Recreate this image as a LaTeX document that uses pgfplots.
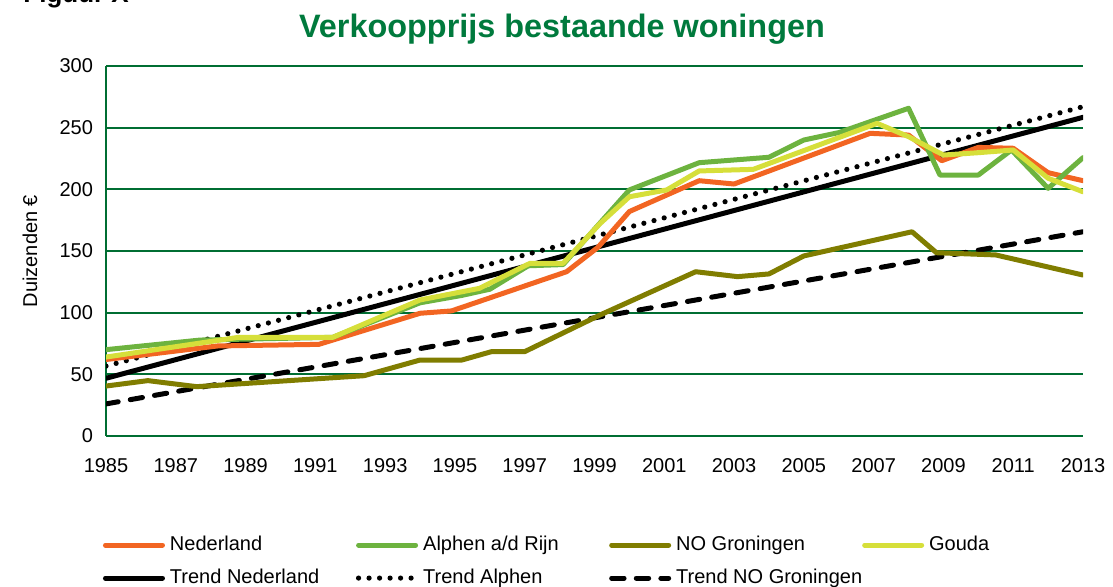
\documentclass[border=0pt]{standalone}
\usepackage{fontspec}
\setmainfont{Liberation Sans}
\usepackage{pgfplots}
\pgfplotsset{compat=1.18}
\definecolor{nlorange}{RGB}{242,101,34}
\definecolor{alphengreen}{RGB}{109,179,63}
\definecolor{groolive}{RGB}{128,125,0}
\definecolor{goudayellow}{RGB}{214,223,58}
\definecolor{gridgreen}{RGB}{0,110,50}
\definecolor{titlegreen}{RGB}{0,122,61}

\begin{document}
\begin{tikzpicture}
\useasboundingbox (-53pt,-75.5pt) rectangle (503.5pt,218pt);
\begin{axis}[
  scale only axis,
  width=488.5pt, height=185pt,
  xmin=1985, xmax=2013,
  ymin=0, ymax=300,
  xtick={1985,1987,...,2013},
  ytick={0,50,...,300},
  major tick length=0pt,
  axis x line*=bottom,
  axis y line*=left,
  axis line style={draw=gridgreen, line width=1.15pt},
  ymajorgrids,
  major grid style={draw=gridgreen, line width=1.15pt},
  /pgf/number format/1000 sep={},
  /pgf/number format/assume math mode=true,
  tick label style={font=\fontsize{10}{12}\selectfont},
  xticklabel style={yshift=-7.7pt},
  yticklabel style={xshift=-3pt},
  ylabel={Duizenden €},
  ylabel style={at={(axis description cs:-0.0778,0.5)}, anchor=center, font=\fontsize{10}{12}\selectfont},
  every axis plot/.append style={line width=2.5pt, line join=round, line cap=round, mark=none},
  legend image code/.code={\draw[#1] (0pt,0pt) -- (28.5pt,0pt);},
  legend columns=4,
  legend cell align=left,
  legend style={
    at={(axis description cs:-0.0031,-0.2643)}, anchor=north west,
    draw=none, fill=none, inner sep=0pt, outer sep=0pt,
    font=\fontsize{10}{12}\selectfont,
    nodes={inner sep=1pt, text height=7.2pt, text depth=2.1pt},
    row sep=5.2pt,
    /tikz/every odd column/.append style={column sep=1.5pt}
  }
]
% trend lines (drawn underneath)
\addplot[black, forget plot] coordinates {(1985,46.8) (2013,258.4)};
\addplot[black, line width=2.6pt, dash pattern=on 0pt off 5.25pt, forget plot] coordinates {(1985,56.7) (2013,267)};
\addplot[black, dash pattern=on 6.2pt off 6.1pt, forget plot] coordinates {(1985,26) (2013,165.6)};

% Nederland
\addplot[nlorange] coordinates {
  (1985,62) (1988.2,73) (1991.1,74.3) (1994,99.5) (1994.9,101.4)
  (1998.2,133.2) (1999.1,153) (2000,182) (2002,207) (2003,204.3)
  (2006.9,245.4) (2008,244) (2008.95,223.2) (2010,234) (2011,233.3)
  (2012,213.5) (2013,207)
};
\addlegendentry{\makebox[92pt][l]{Nederland}}
% Alphen a/d Rijn
\addplot[alphengreen] coordinates {
  (1985,70) (1987.7,77.8) (1991.5,80) (1994,108) (1995.2,114)
  (1996,119) (1997.1,138) (1998.1,139) (2000,199.5) (2002,221.6)
  (2004,226) (2005,240) (2006,246) (2008,265.7) (2008.9,211.6)
  (2010,211.6) (2010.95,231.9) (2012,200.8) (2013,225.7)
};
\addlegendentry{\makebox[92pt][l]{Alphen a/d Rijn}}
% NO Groningen
\addplot[groolive] coordinates {
  (1985,40.5) (1986.2,44.9) (1987.6,40) (1992.4,48.9) (1994,61.6)
  (1995.2,61.6) (1996.05,68.4) (1997,68.4) (1999.15,98) (2001.9,133.2)
  (2003.1,129.2) (2004,131.4) (2005,146) (2008.1,165.6) (2008.8,148.6)
  (2010.5,146.8) (2013,130.5)
};
\addlegendentry{\makebox[92pt][l]{NO Groningen}}
% Gouda
\addplot[goudayellow] coordinates {
  (1985,64) (1988.8,80) (1991.5,80) (1994,110.3) (1995.7,119.7)
  (1997.15,140) (1998.1,140) (1999.15,172) (2000,194) (2001.07,199.5)
  (2002,214.9) (2003.55,216.2) (2007.1,253.5) (2008,242.7) (2009,227.8)
  (2010,229.7) (2011,231.9) (2012,209) (2013,198)
};
\addlegendentry{\makebox[92pt][l]{Gouda}}

\addlegendimage{black}
\addlegendentry{\makebox[92pt][l]{Trend Nederland}}
\addlegendimage{black, line width=2.6pt, dash pattern=on 0pt off 5.25pt}
\addlegendentry{\makebox[92pt][l]{Trend Alphen}}
\addlegendimage{black, dash pattern=on 6.2pt off 6.1pt}
\addlegendentry{\makebox[92pt][l]{Trend NO Groningen}}
\end{axis}
\node[anchor=base, font=\bfseries\fontsize{16.2}{19}\selectfont, text=titlegreen] at (228pt,199pt) {Verkoopprijs bestaande woningen};
\node[anchor=base west, inner sep=0pt, font=\bfseries\fontsize{13}{15}\selectfont] at (-41.5pt,216.6pt) {Figuur X};
\end{tikzpicture}
\end{document}
